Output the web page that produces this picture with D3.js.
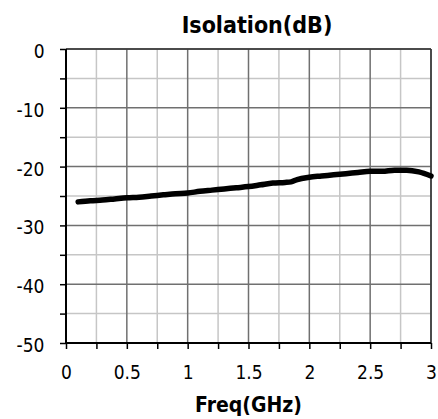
<!DOCTYPE html>
<html>
<head>
<meta charset="utf-8">
<script src="https://cdn.jsdelivr.net/npm/d3@7"></script>
<style>
  html, body { margin: 0; padding: 0; background: #fff; }
  svg { display: block; }
  text { font-family: "DejaVu Sans Condensed", "DejaVu Sans", Verdana, sans-serif; fill: #000; }
</style>
</head>
<body>
<svg id="chart" width="438" height="419"></svg>
<script>
// Isolation vs frequency
const freqGHz = [0.1, 0.2, 0.3, 0.4, 0.5, 0.6, 0.7, 0.8, 0.9, 1.0,
                 1.1, 1.2, 1.3, 1.4, 1.5, 1.6, 1.7, 1.8, 1.85, 1.9,
                 2.0, 2.1, 2.2, 2.3, 2.4, 2.5, 2.6, 2.7, 2.8, 2.9, 3.0];
const isolationDb = [-26.0, -25.8, -25.7, -25.5, -25.3, -25.2, -25.0, -24.8, -24.6, -24.5,
                     -24.2, -24.0, -23.8, -23.6, -23.4, -23.1, -22.8, -22.7, -22.6, -22.2,
                     -21.8, -21.6, -21.4, -21.2, -21.0, -20.8, -20.8, -20.6, -20.6, -20.9, -21.6];
const xTicks = [0, 0.5, 1, 1.5, 2, 2.5, 3];
const xMinorTicks = [0.25, 0.75, 1.25, 1.75, 2.25, 2.75];
const yTicks = [0, -10, -20, -30, -40, -50];
const yMinorTicks = [-5, -15, -25, -35, -45];
const chartTitle = "Isolation(dB)";
const xTitle = "Freq(GHz)";

const W = 438, H = 419;
const margin = { left: 66, right: 7, top: 49, bottom: 76 };
const iw = W - margin.left - margin.right;
const ih = H - margin.top - margin.bottom;
const FONT = "'DejaVu Sans Condensed', 'DejaVu Sans', Verdana, sans-serif";

const svg = d3.select("#chart");
const g = svg.append("g").attr("transform", `translate(${margin.left},${margin.top})`);

const x = d3.scaleLinear().domain([0, 3]).range([0, iw]);
const y = d3.scaleLinear().domain([-50, 0]).range([ih, 0]);

// minor grid
g.append("g").selectAll("line").data(xMinorTicks).join("line")
  .attr("x1", d => x(d)).attr("x2", d => x(d)).attr("y1", 0).attr("y2", ih)
  .attr("stroke", "#c6c6c6").attr("stroke-width", 1.5);
g.append("g").selectAll("line").data(yMinorTicks).join("line")
  .attr("y1", d => y(d)).attr("y2", d => y(d)).attr("x1", 0).attr("x2", iw)
  .attr("stroke", "#c6c6c6").attr("stroke-width", 1.5);
// major grid
g.append("g").selectAll("line").data(xTicks.slice(1)).join("line")
  .attr("x1", d => x(d)).attr("x2", d => x(d)).attr("y1", 0).attr("y2", ih)
  .attr("stroke", "#707070").attr("stroke-width", 1.5);
g.append("g").selectAll("line").data(yTicks.slice(0, -1)).join("line")
  .attr("y1", d => y(d)).attr("y2", d => y(d)).attr("x1", 0).attr("x2", iw)
  .attr("stroke", "#707070").attr("stroke-width", 1.5);

// frame top/right
g.append("line").attr("x1", 0).attr("x2", iw).attr("y1", 0).attr("y2", 0)
  .attr("stroke", "#333").attr("stroke-width", 1.5);
g.append("line").attr("x1", iw).attr("x2", iw).attr("y1", 0).attr("y2", ih)
  .attr("stroke", "#333").attr("stroke-width", 1.5);

// axes
const xAxis = d3.axisBottom(x).tickValues(xTicks.concat(xMinorTicks))
  .tickSize(6).tickFormat(d => xTicks.includes(d) ? d3.format("")(d) : "").tickPadding(16.5);
const yAxis = d3.axisLeft(y).tickValues(yTicks.concat(yMinorTicks))
  .tickSize(6).tickFormat(d => yTicks.includes(d) ? String(d) : "").tickPadding(15.5);

const gx = g.append("g").attr("transform", `translate(0,${ih})`).call(xAxis);
const gy = g.append("g").call(yAxis);
[gx, gy].forEach(a => {
  a.select(".domain").attr("stroke", "#000").attr("stroke-width", 2);
  a.selectAll(".tick line").attr("stroke", "#000").attr("stroke-width", 1.5);
  a.selectAll(".tick text").style("font-family", FONT)
    .style("font-size", "19px").attr("fill", "#000");
});
gy.select(".domain").attr("d", `M0,${ih}V0`);
gx.select(".domain").attr("d", `M0,0H${iw}`);
gy.selectAll(".tick text").attr("dy", "0.45em");

// data line
const line = d3.line().x((d, i) => x(freqGHz[i])).y(d => y(d)).curve(d3.curveMonotoneX);
g.append("path").datum(isolationDb)
  .attr("d", line)
  .attr("fill", "none").attr("stroke", "#000").attr("stroke-width", 5.5)
  .attr("stroke-linecap", "round").attr("stroke-linejoin", "round");

// titles
svg.append("text").attr("x", 257).attr("y", 33).attr("text-anchor", "middle")
  .style("font-family", FONT).style("font-weight", "bold").style("font-size", "23px").text(chartTitle);
svg.append("text").attr("x", margin.left + iw / 2).attr("y", 412).attr("text-anchor", "middle")
  .style("font-family", FONT).style("font-weight", "bold").style("font-size", "21px").text(xTitle);
</script>
</body>
</html>
